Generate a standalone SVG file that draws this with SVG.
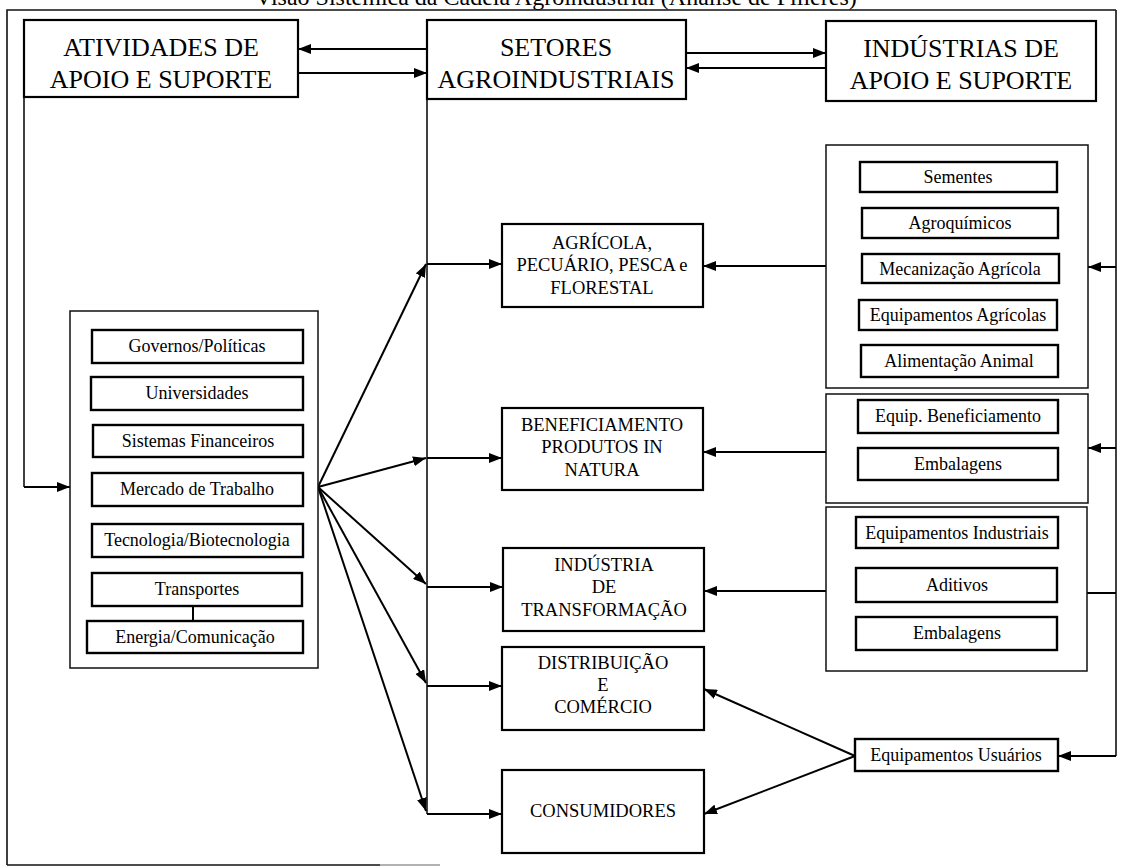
<svg xmlns="http://www.w3.org/2000/svg" width="1121" height="868" viewBox="0 0 1121 868">
  <style>
    .bg { fill: #ffffff; }
    .frame { fill: none; stroke: #111; stroke-width: 1.6; }
    .box { fill: #ffffff; stroke: #000; stroke-width: 2.2; }
    .panel { fill: #ffffff; stroke: #111; stroke-width: 1.5; }
    .item { fill: #ffffff; stroke: #000; stroke-width: 2.4; }
    .wire { fill: none; stroke: #000; stroke-width: 2; }
    .bus { fill: none; stroke: #111; stroke-width: 1.6; }
    text { font-family: "Liberation Serif", "Times New Roman", serif; fill: #000; text-anchor: middle; }
    .big { font-size: 26px; }
    .mid { font-size: 18.5px; }
    .small { font-size: 18px; }
    .title { font-size: 24px; text-anchor: start; }
  </style>
  <defs>
    <marker id="ah" viewBox="0 0 13 10" refX="13" refY="5" markerWidth="13" markerHeight="10" markerUnits="userSpaceOnUse" orient="auto">
      <path d="M0,0 L13,5 L0,10 z" fill="#000"/>
    </marker>
  </defs>

  <rect class="bg" x="0" y="0" width="1121" height="868"/>

  <!-- heading, cut by the top edge of the sheet -->
  <text class="title" x="255" y="5">Visão Sistêmica da Cadeia Agroindustrial (Análise de Filières)</text>

  <!-- outer frame -->
  <g id="frame">
    <path class="frame" d="M7,865 L7,10 L1116,10"/>
    <path class="frame" d="M7,865 L380,865"/>
    <path d="M380,865 L440,865" stroke="#999" stroke-width="1.4" fill="none"/>
  </g>

  <!-- connectors -->
  <g id="connectors">
    <!-- top row exchanges -->
    <line class="wire" x1="427" y1="49" x2="298" y2="49" marker-end="url(#ah)"/>
    <line class="wire" x1="298" y1="73" x2="427" y2="73" marker-end="url(#ah)"/>
    <line class="wire" x1="686" y1="53" x2="826" y2="53" marker-end="url(#ah)"/>
    <line class="wire" x1="826" y1="68" x2="686" y2="68" marker-end="url(#ah)"/>

    <!-- left feed into support activities panel -->
    <path class="bus" d="M24,97 L24,487"/>
    <line class="wire" x1="24" y1="487" x2="70" y2="487" marker-end="url(#ah)"/>

    <!-- sector bus -->
    <path class="bus" d="M427,99 L427,814"/>

    <!-- fan-out from support activities -->
    <line class="wire" x1="318" y1="487" x2="426" y2="264" marker-end="url(#ah)"/>
    <line class="wire" x1="318" y1="487" x2="426" y2="458" marker-end="url(#ah)"/>
    <line class="wire" x1="318" y1="487" x2="426" y2="584" marker-end="url(#ah)"/>
    <line class="wire" x1="318" y1="487" x2="426" y2="683" marker-end="url(#ah)"/>
    <line class="wire" x1="318" y1="487" x2="426" y2="811" marker-end="url(#ah)"/>

    <!-- bus to sector boxes -->
    <line class="wire" x1="427" y1="264" x2="502" y2="264" marker-end="url(#ah)"/>
    <line class="wire" x1="427" y1="458" x2="502" y2="458" marker-end="url(#ah)"/>
    <line class="wire" x1="427" y1="587" x2="503" y2="587" marker-end="url(#ah)"/>
    <line class="wire" x1="427" y1="686" x2="502" y2="686" marker-end="url(#ah)"/>
    <line class="wire" x1="427" y1="814" x2="502" y2="814" marker-end="url(#ah)"/>

    <!-- supplier panels to sector boxes -->
    <line class="wire" x1="826" y1="266" x2="703" y2="266" marker-end="url(#ah)"/>
    <line class="wire" x1="826" y1="452" x2="703" y2="452" marker-end="url(#ah)"/>
    <line class="wire" x1="826" y1="591" x2="704" y2="591" marker-end="url(#ah)"/>

    <!-- right-hand supplier bus -->
    <path class="bus" d="M1116,10 L1116,756"/>
    <line class="wire" x1="1116" y1="267" x2="1088" y2="267" marker-end="url(#ah)"/>
    <line class="wire" x1="1116" y1="448" x2="1088" y2="448" marker-end="url(#ah)"/>
    <line class="wire" x1="1087" y1="593" x2="1116" y2="593"/>
    <line class="wire" x1="1116" y1="756" x2="1058" y2="756" marker-end="url(#ah)"/>

    <!-- user equipment to distribution and consumers -->
    <line class="wire" x1="855" y1="756" x2="704" y2="689" marker-end="url(#ah)"/>
    <line class="wire" x1="855" y1="756" x2="704" y2="814" marker-end="url(#ah)"/>
  </g>

  <!-- top row -->
  <g id="atividades">
    <rect class="box" x="24" y="20" width="274" height="77"/>
    <text class="big" x="161" y="56">ATIVIDADES DE</text>
    <text class="big" x="161" y="88">APOIO E SUPORTE</text>
  </g>
  <g id="setores">
    <rect class="box" x="427" y="20" width="259" height="79"/>
    <text class="big" x="556" y="56">SETORES</text>
    <text class="big" x="556" y="88">AGROINDUSTRIAIS</text>
  </g>
  <g id="industrias">
    <rect class="box" x="826" y="21" width="270" height="80"/>
    <text class="big" x="961" y="57">INDÚSTRIAS DE</text>
    <text class="big" x="961" y="89">APOIO E SUPORTE</text>
  </g>

  <!-- support activities panel -->
  <g id="apoio-panel">
    <rect class="panel" x="70" y="311" width="248" height="357"/>
    <g id="governos"><rect class="item" x="92" y="330" width="211" height="33"/><text class="small" x="197" y="352">Governos/Políticas</text></g>
    <g id="universidades"><rect class="item" x="91" y="377" width="212" height="33"/><text class="small" x="197" y="399">Universidades</text></g>
    <g id="sistemas"><rect class="item" x="93" y="425" width="210" height="32"/><text class="small" x="198" y="447">Sistemas Financeiros</text></g>
    <g id="mercado"><rect class="item" x="92" y="473" width="211" height="33"/><text class="small" x="197" y="495">Mercado de Trabalho</text></g>
    <g id="tecnologia"><rect class="item" x="92" y="524" width="211" height="33"/><text class="small" x="197" y="546">Tecnologia/Biotecnologia</text></g>
    <g id="transportes"><rect class="item" x="92" y="573" width="210" height="33"/><text class="small" x="197" y="595">Transportes</text></g>
    <line x1="193" y1="606" x2="193" y2="621" stroke="#000" stroke-width="2"/>
    <g id="energia"><rect class="item" x="87" y="621" width="216" height="32"/><text class="small" x="195" y="643">Energia/Comunicação</text></g>
  </g>

  <!-- sector boxes -->
  <g id="agricola">
    <rect class="box" x="502" y="224" width="201" height="83"/>
    <text class="mid" x="602" y="249">AGRÍCOLA,</text>
    <text class="mid" x="602" y="271">PECUÁRIO, PESCA e</text>
    <text class="mid" x="602" y="294">FLORESTAL</text>
  </g>
  <g id="beneficiamento">
    <rect class="box" x="502" y="408" width="201" height="82"/>
    <text class="mid" x="602" y="431">BENEFICIAMENTO</text>
    <text class="mid" x="602" y="453">PRODUTOS IN</text>
    <text class="mid" x="602" y="476">NATURA</text>
  </g>
  <g id="transformacao">
    <rect class="box" x="503" y="548" width="201" height="83"/>
    <text class="mid" x="604" y="571">INDÚSTRIA</text>
    <text class="mid" x="604" y="593">DE</text>
    <text class="mid" x="604" y="616">TRANSFORMAÇÃO</text>
  </g>
  <g id="distribuicao">
    <rect class="box" x="502" y="647" width="202" height="83"/>
    <text class="mid" x="603" y="669">DISTRIBUIÇÃO</text>
    <text class="mid" x="603" y="691">E</text>
    <text class="mid" x="603" y="713">COMÉRCIO</text>
  </g>
  <g id="consumidores">
    <rect class="box" x="502" y="770" width="202" height="83"/>
    <text class="mid" x="603" y="817">CONSUMIDORES</text>
  </g>

  <!-- supplier panels -->
  <g id="insumos-agricolas">
    <rect class="panel" x="826" y="145" width="262" height="243"/>
    <g id="sementes"><rect class="item" x="860" y="162" width="197" height="30"/><text class="small" x="958" y="183">Sementes</text></g>
    <g id="agroquimicos"><rect class="item" x="862" y="208" width="196" height="30"/><text class="small" x="960" y="229">Agroquímicos</text></g>
    <g id="mecanizacao"><rect class="item" x="862" y="254" width="197" height="29"/><text class="small" x="960" y="275">Mecanização Agrícola</text></g>
    <g id="equip-agricolas"><rect class="item" x="859" y="300" width="198" height="30"/><text class="small" x="958" y="321">Equipamentos Agrícolas</text></g>
    <g id="alimentacao"><rect class="item" x="861" y="345" width="197" height="32"/><text class="small" x="959" y="367">Alimentação Animal</text></g>
  </g>
  <g id="insumos-beneficiamento">
    <rect class="panel" x="826" y="394" width="262" height="109"/>
    <g id="equip-beneficiamento"><rect class="item" x="858" y="400" width="200" height="33"/><text class="small" x="958" y="422">Equip. Beneficiamento</text></g>
    <g id="embalagens-1"><rect class="item" x="858" y="448" width="200" height="32"/><text class="small" x="958" y="470">Embalagens</text></g>
  </g>
  <g id="insumos-industriais">
    <rect class="panel" x="826" y="507" width="261" height="164"/>
    <g id="equip-industriais"><rect class="item" x="856" y="517" width="202" height="31"/><text class="small" x="957" y="539">Equipamentos Industriais</text></g>
    <g id="aditivos"><rect class="item" x="856" y="568" width="201" height="34"/><text class="small" x="957" y="591">Aditivos</text></g>
    <g id="embalagens-2"><rect class="item" x="856" y="617" width="201" height="33"/><text class="small" x="957" y="639">Embalagens</text></g>
  </g>

  <g id="equip-usuarios">
    <rect class="item" x="855" y="739" width="203" height="32"/>
    <text class="small" x="956" y="761">Equipamentos Usuários</text>
  </g>
</svg>
